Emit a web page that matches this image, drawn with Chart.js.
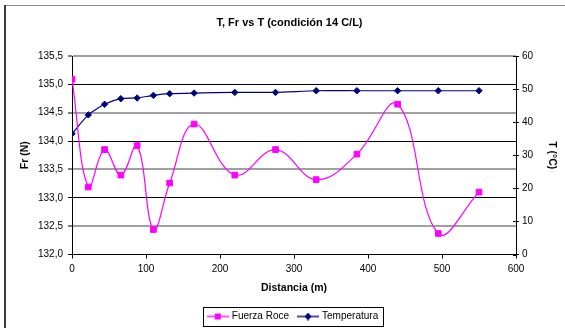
<!DOCTYPE html>
<html>
<head>
<meta charset="utf-8">
<script src="https://cdn.jsdelivr.net/npm/chart.js@4.4.0/dist/chart.umd.min.js"></script>
<style>
  html, body { margin: 0; padding: 0; background: #fff; }
  #wrap { width: 565px; height: 328px; }
</style>
</head>
<body>
<div id="wrap"><canvas id="c" width="565" height="328"></canvas></div>
<script>
// Distance along the run (m) and the two measured series
const distancia   = [0, 22, 44, 66, 88, 110, 132, 165, 220, 275, 330, 385, 440, 495, 550];
const fuerzaRoce  = [135.09, 133.19, 133.85, 133.40, 133.92, 132.44, 133.26, 134.30, 133.40, 133.85, 133.32, 133.77, 134.65, 132.37, 133.10];
const temperatura = [36.5, 42.2, 45.4, 47.1, 47.3, 48.1, 48.6, 48.8, 49.0, 49.0, 49.5, 49.5, 49.5, 49.5, 49.5];

// Tick values of the three axes
const distTicks = [0, 100, 200, 300, 400, 500, 600];
const frTicks   = [132.0, 132.5, 133.0, 133.5, 134.0, 134.5, 135.0, 135.5];
const tTicks    = [0, 10, 20, 30, 40, 50, 60];

const FONT = "'Liberation Sans', Arial, sans-serif";
Chart.defaults.font.family = FONT;
Chart.defaults.font.size = 10;
Chart.defaults.color = '#000';

const MAGENTA = '#ff00ff';
const NAVY = '#000080';

// Small "line + marker" swatches for the legend
function legendIcon(lineColor, markColor, shape) {
  const c = document.createElement('canvas');
  c.width = 22; c.height = 8;
  const g = c.getContext('2d');
  g.fillStyle = lineColor;
  g.fillRect(0, 3, 22, 2);
  g.fillStyle = markColor;
  if (shape === 'rect') {
    g.fillRect(8, 1, 6, 6);
  } else {
    g.beginPath();
    g.moveTo(11, 0); g.lineTo(14.5, 4); g.lineTo(11, 8); g.lineTo(7.5, 4);
    g.closePath(); g.fill();
  }
  return c;
}
const icons = [legendIcon('#ff55ff', MAGENTA, 'rect'), legendIcon('#4b4ba6', NAVY, 'diamond')];

const toPoints = (ys) => distancia.map((d, i) => ({ x: d, y: ys[i] }));
const setTicks = (vals) => (scale) => { scale.ticks = vals.map(v => ({ value: v })); };

// Outer frame of the chart object
const frame = {
  id: 'frame',
  beforeDraw(chart) {
    const ctx = chart.ctx;
    ctx.save();
    ctx.fillStyle = '#fff';
    ctx.fillRect(0, 0, chart.width, chart.height);
    ctx.fillStyle = '#8c8c8c';
    ctx.fillRect(4, 5, chart.width - 4, 1);
    ctx.fillStyle = '#3c3c3c';
    ctx.fillRect(4, 5, 2, chart.height - 5);
    ctx.restore();
  }
};

// Horizontal placement of the title and legend
const nudge = {
  id: 'nudge',
  afterLayout(chart) {
    const t = chart.titleBlock;
    if (t) { t.left += 7; t.right += 7; }
    const l = chart.legend;
    if (l) { l.left += 11; l.right += 11; }
  }
};

// Legend frame and the inner half of the right-axis tick marks
const extras = {
  id: 'extras',
  afterDraw(chart) {
    const ctx = chart.ctx;
    ctx.save();
    ctx.strokeStyle = '#000';
    ctx.lineWidth = 1;

    const lg = chart.legend;
    const pad = lg.options.labels.padding;
    const x0 = (lg.left + pad + lg.right - lg.lineWidths[0]) / 2;
    const cy = lg.top + pad + 5;
    const left = Math.round(x0 - 5.5) + 0.5;
    const right = Math.round(x0 + lg.lineWidths[0] - pad + 5) + 0.5;
    const top = Math.round(cy - 9.5) + 0.5;
    ctx.strokeRect(left, top, right - left, 19);

    const s = chart.scales.y1;
    ctx.beginPath();
    s.ticks.forEach(t => {
      const y = Math.round(s.getPixelForValue(t.value)) + 0.5;
      ctx.moveTo(s.left - 3, y);
      ctx.lineTo(s.left, y);
    });
    ctx.stroke();
    ctx.restore();
  }
};

const axisTitleFont = { size: 10.5, weight: 'bold', lineHeight: 1.2 };

new Chart(document.getElementById('c'), {
  type: 'line',
  data: {
    datasets: [
      {
        label: 'Fuerza Roce',
        data: toPoints(fuerzaRoce),
        yAxisID: 'y',
        borderColor: MAGENTA,
        backgroundColor: MAGENTA,
        borderWidth: 1.2,
        pointStyle: 'rect',
        pointRadius: 4,
        pointBorderWidth: 1,
        tension: 0.4,
        fill: false
      },
      {
        label: 'Temperatura',
        data: toPoints(temperatura),
        yAxisID: 'y1',
        borderColor: NAVY,
        backgroundColor: NAVY,
        borderWidth: 1.2,
        pointStyle: 'rectRot',
        pointRadius: 3.2,
        pointBorderWidth: 1,
        tension: 0.2,
        fill: false
      }
    ]
  },
  options: {
    responsive: false,
    animation: false,
    devicePixelRatio: 1,
    layout: { padding: { left: 0, right: 0, top: 0, bottom: -3.5 } },
    plugins: {
      title: {
        display: true,
        text: 'T, Fr vs T (condición 14 C/L)',
        color: '#000',
        font: { family: FONT, size: 11, weight: 'bold', lineHeight: 1.2 },
        padding: { top: 16.5, bottom: 26.3 }
      },
      legend: {
        position: 'bottom',
        labels: {
          color: '#000',
          font: { family: FONT, size: 10 },
          usePointStyle: true,
          pointStyleWidth: 18,
          padding: 10,
          generateLabels(chart) {
            const items = Chart.defaults.plugins.legend.labels.generateLabels(chart);
            items.forEach((it, i) => { it.pointStyle = icons[i]; });
            return items;
          }
        }
      },
      tooltip: { enabled: false }
    },
    scales: {
      x: {
        type: 'linear',
        min: 0,
        max: 600,
        afterBuildTicks: setTicks(distTicks),
        afterFit: (s) => { s.height = 47; },
        ticks: { maxRotation: 0, autoSkip: false, padding: 5, color: '#000', font: { size: 10 } },
        grid: { drawOnChartArea: false, color: '#000', tickColor: '#000', tickLength: 4, tickWidth: 1 },
        border: { color: '#000', width: 1 },
        title: {
          display: true,
          text: 'Distancia (m)',
          color: '#000',
          font: axisTitleFont,
          padding: { top: 0, bottom: 7 }
        }
      },
      y: {
        type: 'linear',
        position: 'left',
        min: 132,
        max: 135.5,
        afterBuildTicks: setTicks(frTicks),
        afterFit: (s) => { s.width = 72; },
        ticks: {
          padding: 5,
          color: '#000',
          font: { size: 10 },
          callback: (v) => v.toFixed(1).replace('.', ',')
        },
        grid: {
          color: (c) => (c.index % 2 ? '#a0a0a0' : '#000'),
          lineWidth: (c) => (c.index % 2 ? 2 : 1),
          tickColor: '#000',
          tickWidth: 1,
          tickLength: 4
        },
        border: { color: '#000', width: 1 },
        title: {
          display: true,
          text: 'Fr (N)',
          color: '#000',
          font: axisTitleFont,
          padding: { top: 18.7, bottom: 0 }
        }
      },
      y1: {
        type: 'linear',
        position: 'right',
        min: 0,
        max: 60,
        afterBuildTicks: setTicks(tTicks),
        afterFit: (s) => { s.width = 49; },
        ticks: { padding: 3, color: '#000', font: { size: 10 } },
        grid: { drawOnChartArea: false, color: '#000', tickColor: '#000', tickLength: 3, tickWidth: 1 },
        border: { color: '#000', width: 1 },
        title: {
          display: true,
          text: 'T (°C)',
          color: '#000',
          font: axisTitleFont,
          padding: { top: 6.7, bottom: 0 }
        }
      }
    }
  },
  plugins: [frame, nudge, extras]
});
</script>
</body>
</html>
